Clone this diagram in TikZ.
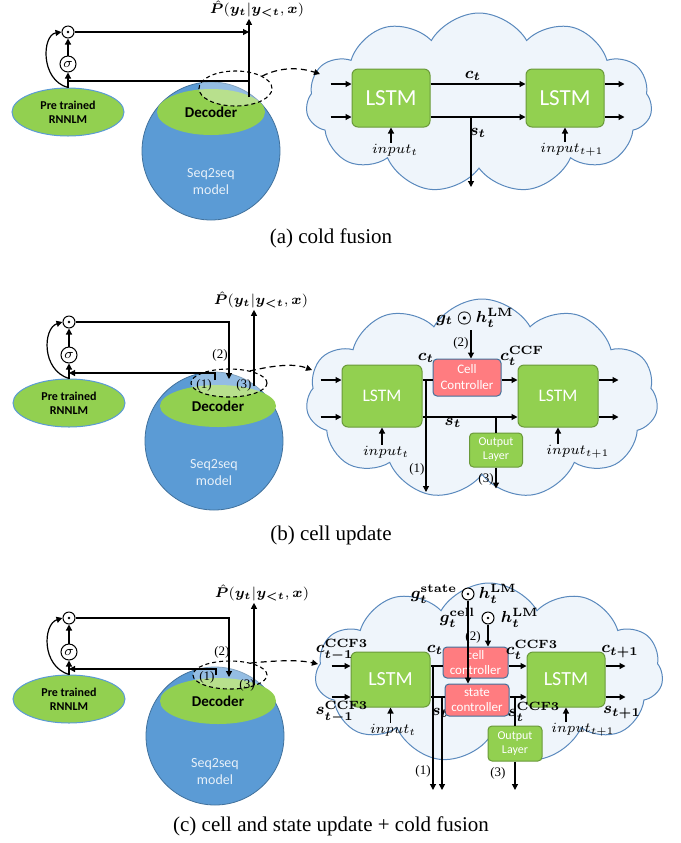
\documentclass[tikz,border=0pt]{standalone}
\usepackage{amsmath,bm}
\usepackage{fontspec}
\setmainfont{Liberation Serif}
\newfontfamily\calib{Carlito}
\usetikzlibrary{arrows.meta,shapes.geometric,shapes.symbols,positioning}
\definecolor{lgreen}{HTML}{92D050}
\definecolor{gborder}{HTML}{6A9A3A}
\definecolor{sblue}{HTML}{5B9BD5}
\definecolor{bborder}{HTML}{41719C}
\definecolor{cfill}{HTML}{EFF5FB}
\definecolor{cborder}{HTML}{5A89BD}
\definecolor{rfill}{HTML}{FF7C80}
\tikzset{
  arr/.style={line width=0.6pt,-{Triangle[length=3pt,width=3pt]}},
  ln/.style={line width=0.6pt},
  dasharr/.style={line width=0.6pt,dash pattern=on 3pt off 2pt,-{Triangle[length=3pt,width=3pt]}},
  dotc/.style={circle,draw,line width=0.5pt,fill=white,minimum size=6pt,inner sep=0pt},
  sigc/.style={circle,draw,line width=0.5pt,fill=white,minimum size=8pt,inner sep=0pt,font=\fontsize{7}{8}\selectfont},
  lmell/.style={ellipse,fill=lgreen,draw=sblue,line width=0.5pt,minimum width=56pt,minimum height=24pt,inner sep=0pt,align=center,font=\calib\bfseries\fontsize{6}{7}\selectfont},
  seqball/.style={circle,fill=sblue,draw=bborder,line width=0.4pt,minimum size=69pt,inner sep=0pt},
  decell/.style={ellipse,fill=lgreen,inner sep=0pt,font=\calib\bfseries\fontsize{7.5}{9}\selectfont},
  seqlbl/.style={align=center,text=white!85!sblue,font=\calib\fontsize{7}{8.5}\selectfont},
  dashell/.style={ellipse,fill=white,fill opacity=0.35,inner sep=0pt},
  dashline/.style={line width=0.55pt,dash pattern=on 2pt off 1.5pt},
  cloudy/.style={cloud,cloud puffs=11,cloud puff arc=120,cloud ignores aspect,fill=cfill,draw=cborder,line width=0.5pt,inner sep=0pt},
  lstmbox/.style={rectangle,rounded corners=3pt,fill=lgreen,draw=gborder,line width=0.5pt,text=white,font=\calib},
  redbox/.style={rectangle,rounded corners=2pt,fill=rfill,draw=bborder,line width=0.5pt,text=white,align=center,inner sep=0pt,font=\calib\fontsize{6}{7}\selectfont},
  outbox/.style={rectangle,rounded corners=2pt,fill=lgreen,draw=gborder,line width=0.5pt,text=white,align=center,inner sep=0pt,font=\calib\fontsize{6}{7}\selectfont},
  mlbl/.style={inner sep=0.5pt,font=\fontsize{8}{9}\selectfont},
  inlbl/.style={inner sep=0.5pt,font=\fontsize{7}{8}\selectfont},
  plbl/.style={inner sep=0.5pt,font=\fontsize{7}{8}\selectfont},
  nlbl/.style={inner sep=0pt,font=\fontsize{6.5}{8}\selectfont},
  caplbl/.style={font=\fontsize{10.5}{12}\selectfont},
}

\begin{document}
\begin{tikzpicture}[x=0.5pt,y=-0.5pt]
  \useasboundingbox (0,0) rectangle (681,843);
  %%%%% (a) START %%%%%

  \node[seqball] (aBall) at (211,151) {};
  \node[decell,minimum width=54pt,minimum height=23pt] (aDec) at (211,112) {Decoder};
  \node[seqlbl] (aSeq) at (211,181) {Seq2seq\\model};
  \node[dashell,minimum width=36.5pt,minimum height=17.5pt] (aDash) at (235.5,88.5) {};
  \draw[dashline] (aDash.center) ellipse [x radius=18.25pt,y radius=8.75pt];

  \node[lmell] (aLM) at (68,112) {Pre trained\\RNNLM};
  \node[sigc] (aSig) at (68,64) {$\sigma$};
  \node[dotc] (aDot) at (68,32) {};
  \fill (aDot) circle (0.7pt);

  \node[plbl] (aP) at (257,9) {$\hat{\bm{P}}(\bm{y_t}|\bm{y_{<t}},\bm{x})$};
  \coordinate (aUp) at (249,97);
  \draw[arr] (aUp) -- (aUp |- aP.south);
  \draw[arr] (aDot.east) -- (aDot.east -| aUp);
  \draw[ln] (aLM.north |- 0,81) -- (aUp |- 0,81);
  \draw[arr] (aLM.north) -- (aSig.south);
  \draw[arr] (aSig.north) -- (aDot.south);
  \draw[arr] (aLM.north) .. controls (40,80) and (42,35) .. (aDot.west);

  \node[cloudy,minimum width=173pt,minimum height=90pt] (aCl) at (479,103) {};
  \coordinate (aClIn) at (320,74);
  \draw[dasharr] (aDash.25) .. controls (282,66) and (302,68) .. (aClIn);

  \node[lstmbox,minimum width=39pt,minimum height=29pt,font=\calib\fontsize{11.5}{13}\selectfont] (aL1) at (391,98) {LSTM};
  \node[lstmbox,minimum width=39pt,minimum height=29pt,font=\calib\fontsize{11.5}{13}\selectfont] (aL2) at (565,98) {LSTM};

  \draw[arr] (aL1.east |- 0,84) -- (aL2.west |- 0,84);
  \draw[arr] (aL1.east |- 0,117) -- (aL2.west |- 0,117);
  \node[mlbl] (aCt) at (473,76) {$\bm{c_t}$};
  \node[mlbl] (aSt) at (478,133) {$\bm{s_t}$};
  \coordinate (aSb) at (471,117);
  \draw[arr] (aSb) -- ++(0,70);

  \draw[arr] (aL1.west |- 0,84) ++(-21,0) -- ++(21,0);
  \draw[arr] (aL1.west |- 0,117) ++(-21,0) -- ++(21,0);
  \draw[arr] (aL2.east |- 0,84) -- ++(20,0);
  \draw[arr] (aL2.east |- 0,117) -- ++(20,0);

  \node[inlbl] (aIn1) at (395,150) {$input_t$};
  \node[inlbl] (aIn2) at (572,150) {$input_{t+1}$};
  \draw[arr] (aL1.south |- aIn1.north) -- (aL1.south);
  \draw[arr] (aL2.south |- aIn2.north) -- (aL2.south);

  \node[caplbl] (aCap) at (331,238) {(a) cold fusion};

  %%%%% (b) START %%%%%

  \node[seqball] (bBall) at (214,441) {};
  \node[decell,minimum width=58pt,minimum height=21pt] (bDec) at (218,406) {Decoder};
  \node[seqlbl] (bSeq) at (214,472) {Seq2seq\\model};
  \node[dashell,minimum width=38pt,minimum height=14pt] (bDash) at (229,383) {};
  \draw[dashline] (bDash.center) ellipse [x radius=19pt,y radius=7pt];

  \node[lmell] (bLM) at (69,403) {Pre trained\\RNNLM};
  \node[sigc] (bSig) at (69,355) {$\sigma$};
  \node[dotc] (bDot) at (69,322) {};
  \fill (bDot) circle (0.7pt);

  \node[plbl] (bP) at (261,300) {$\hat{\bm{P}}(\bm{y_t}|\bm{y_{<t}},\bm{x})$};
  \coordinate (bTwo) at (229,379);
  \coordinate (bOne) at (215,380);
  \coordinate (bThree) at (254,386);
  \draw[arr] (bDot.east) -| (bTwo);
  \draw[arr] (bOne) |- (bLM.north |- 0,373);
  \draw[arr] (bThree) -- (bThree |- bP.south);
  \node[nlbl] (bN2) at (220,355) {(2)};
  \node[nlbl] (bN1) at (204,385) {(1)};
  \node[nlbl] (bN3) at (244,385) {(3)};
  \draw[arr] (bLM.north) -- (bSig.south);
  \draw[arr] (bSig.north) -- (bDot.south);
  \draw[arr] (bLM.north) .. controls (41,370) and (43,328) .. (bDot.west);

  \node[cloudy,minimum width=176pt,minimum height=100pt] (bCl) at (482,399) {};
  \coordinate (bClIn) at (312,370);
  \draw[dasharr] (bDash.30) .. controls (280,364) and (296,364) .. (bClIn);

  \node[lstmbox,minimum width=40pt,minimum height=31pt,font=\calib\fontsize{8.8}{10}\selectfont] (bL1) at (382,396) {LSTM};
  \node[lstmbox,minimum width=40pt,minimum height=31pt,font=\calib\fontsize{8.8}{10}\selectfont] (bL2) at (558,396) {LSTM};
  \node[redbox,minimum width=34pt,minimum height=18.5pt,font=\calib\fontsize{6.5}{8}\selectfont] (bCC) at (467,377.5) {Cell\\Controller};
  \node[outbox,minimum width=26.5pt,minimum height=17pt] (bOL) at (496,450) {Output\\Layer};

  \draw[ln] (bL1.east |- 0,380) -- (bCC.west |- 0,380);
  \draw[arr] (bCC.east |- 0,380) -- (bL2.west |- 0,380);
  \draw[arr] (bL1.east |- 0,417) -- (bL2.west |- 0,417);
  \coordinate (bB1) at (426,380);
  \draw[arr] (bB1) -- ++(0,112);
  \draw[ln] (bOL.north |- 0,417) -- (bOL.north);
  \draw[arr] (bOL.south) -- ++(0,21);

  \node[mlbl] (bCt) at (426,358) {$\bm{c_t}$};
  \node[mlbl] (bCf) at (522,356) {$\bm{c_t^{\mathbf{CCF}}}$};
  \node[mlbl] (bSt) at (453,423) {$\bm{s_t}$};
  \node[nlbl] (bM1) at (417,469) {(1)};
  \node[nlbl] (bM3) at (486,479) {(3)};

  \node[mlbl] (bG) at (475,318) {$\bm{g_t \odot h_t^{\mathbf{LM}}}$};
  \coordinate (bGs) at (471,330);
  \draw[arr] (bGs) -- (bGs |- bCC.north);
  \node[nlbl] (bM2) at (461,343) {(2)};

  \draw[arr] (bL1.west |- 0,380) ++(-21,0) -- ++(21,0);
  \draw[arr] (bL1.west |- 0,417) ++(-21,0) -- ++(21,0);
  \draw[arr] (bL2.east |- 0,380) -- ++(20,0);
  \draw[arr] (bL2.east |- 0,417) -- ++(20,0);

  \node[inlbl] (bIn1) at (386,452) {$input_t$};
  \node[inlbl] (bIn2) at (578,452) {$input_{t+1}$};
  \draw[arr] (bL1.south |- bIn1.north) -- (bL1.south);
  \draw[arr] (bL2.south |- bIn2.north) -- (bL2.south);

  \node[caplbl] (bCap) at (331,535) {(b) cell update};

  %%%%% (c) START %%%%%

  \node[seqball] (cBall) at (215,736) {};
  \node[decell,minimum width=58pt,minimum height=23pt] (cDec) at (218,701) {Decoder};
  \node[seqlbl] (cSeq) at (215,771) {Seq2seq\\model};
  \node[dashell,minimum width=37pt,minimum height=14pt] (cDash) at (230,675) {};
  \draw[dashline] (cDash.center) ellipse [x radius=18.5pt,y radius=7pt];

  \node[lmell] (cLM) at (69,699) {Pre trained\\RNNLM};
  \node[sigc] (cSig) at (69,652) {$\sigma$};
  \node[dotc] (cDot) at (69,618) {};
  \fill (cDot) circle (0.7pt);

  \node[plbl] (cP) at (262,593) {$\hat{\bm{P}}(\bm{y_t}|\bm{y_{<t}},\bm{x})$};
  \coordinate (cTwo) at (229,677);
  \coordinate (cOne) at (216,675);
  \coordinate (cThree) at (254,685);
  \draw[arr] (cDot.east) -| (cTwo);
  \draw[arr] (cOne) |- (cLM.north |- 0,669);
  \draw[arr] (cThree) -- (cThree |- cP.south);
  \node[nlbl] (cN2) at (222,652) {(2)};
  \node[nlbl] (cN1) at (207,677) {(1)};
  \node[nlbl] (cN3) at (247,685) {(3)};
  \draw[arr] (cLM.north) -- (cSig.south);
  \draw[arr] (cSig.north) -- (cDot.south);
  \draw[arr] (cLM.north) .. controls (41,666) and (43,624) .. (cDot.west);

  \node[cloudy,minimum width=174pt,minimum height=90pt] (cCl) at (489,673) {};
  \coordinate (cClIn) at (318,664);
  \draw[dasharr] (cDash.30) .. controls (282,660) and (300,660) .. (cClIn);

  \node[lstmbox,minimum width=39.5pt,minimum height=27.5pt,font=\calib\fontsize{10}{12}\selectfont] (cL1) at (390.5,679.5) {LSTM};
  \node[lstmbox,minimum width=39pt,minimum height=27.5pt,font=\calib\fontsize{10}{12}\selectfont] (cL2) at (566,679.5) {LSTM};
  \node[redbox,minimum width=32.5pt,minimum height=15.5pt,font=\calib\fontsize{6.5}{7.5}\selectfont] (cCC) at (475.5,662.5) {cell\\controller};
  \node[redbox,minimum width=32pt,minimum height=16pt,font=\calib\fontsize{6.5}{7.5}\selectfont] (cSC) at (477,700) {state\\controller};
  \node[outbox,minimum width=27pt,minimum height=17.5pt] (cOL) at (515,743.5) {Output\\Layer};

  \draw[ln] (cL1.east |- 0,666) -- (cCC.west |- 0,666);
  \draw[arr] (cCC.east |- 0,666) -- (cL2.west |- 0,666);
  \draw[ln] (cL1.east |- 0,697) -- (cSC.west |- 0,697);
  \draw[arr] (cSC.east |- 0,697) -- (cL2.west |- 0,697);
  \coordinate (cB1) at (433,666);
  \coordinate (cB2) at (442,697);
  \draw[arr] (cB1) -- (cB1 |- 0,790);
  \draw[arr] (cB2) -- (cB2 |- 0,790);
  \draw[ln] (cOL.north |- 0,697) -- (cOL.north);
  \draw[arr] (cOL.south) -- (cOL.south |- 0,790);
  \node[nlbl] (cM1) at (423,771) {(1)};
  \node[nlbl] (cM3) at (498,773) {(3)};

  \node[mlbl] (cCp) at (342,650) {$\bm{c^{\mathbf{CCF3}}_{t-1}}$};
  \node[mlbl] (cSp) at (342,712) {$\bm{s^{\mathbf{CCF3}}_{t-1}}$};
  \node[mlbl] (cCt) at (435,650) {$\bm{c_t}$};
  \node[mlbl] (cSt) at (440,713) {$\bm{s_t}$};
  \node[mlbl] (cCf) at (532,650) {$\bm{c_t^{\mathbf{CCF3}}}$};
  \node[mlbl] (cSf) at (534,712) {$\bm{s_t^{\mathbf{CCF3}}}$};
  \node[mlbl] (cCn) at (620,652) {$\bm{c_{t+1}}$};
  \node[mlbl] (cSn) at (622,713) {$\bm{s_{t+1}}$};

  \node[dotc] (cDs) at (468,594) {};
  \fill (cDs) circle (0.7pt);
  \node[mlbl,left=1.5pt of cDs] (cGs) {$\bm{g_t^{\mathbf{state}}}$};
  \node[mlbl,right=1.5pt of cDs] (cHs) {$\bm{h_t^{\mathbf{LM}}}$};
  \node[dotc] (cDc) at (488,618) {};
  \fill (cDc) circle (0.7pt);
  \node[mlbl,left=2.5pt of cDc] (cGc) {$\bm{g_t^{\mathbf{cell}}}$};
  \node[mlbl,right=2.5pt of cDc] (cHc) {$\bm{h_t^{\mathbf{LM}}}$};
  \draw[arr] (cDs.south) -- (cDs.south |- cSC.north);
  \draw[arr] (cDc.south) -- (cDc.south |- cCC.north);
  \node[nlbl] (cM2) at (473,637) {(2)};

  \draw[arr] (cL1.west |- 0,666) ++(-19,0) -- ++(19,0);
  \draw[arr] (cL1.west |- 0,697) ++(-19,0) -- ++(19,0);
  \draw[arr] (cL2.east |- 0,666) -- ++(20,0);
  \draw[arr] (cL2.east |- 0,697) -- ++(20,0);

  \node[inlbl] (cIn1) at (393,730) {$input_t$};
  \node[inlbl] (cIn2) at (583,730) {$input_{t+1}$};
  \draw[arr] (cL1.south |- cIn1.north) -- (cL1.south);
  \draw[arr] (cL2.south |- cIn2.north) -- (cL2.south);

  \node[caplbl] (cCap) at (331,826) {(c) cell and state update + cold fusion};

  %%%%% END %%%%%
\end{tikzpicture}
\end{document}
